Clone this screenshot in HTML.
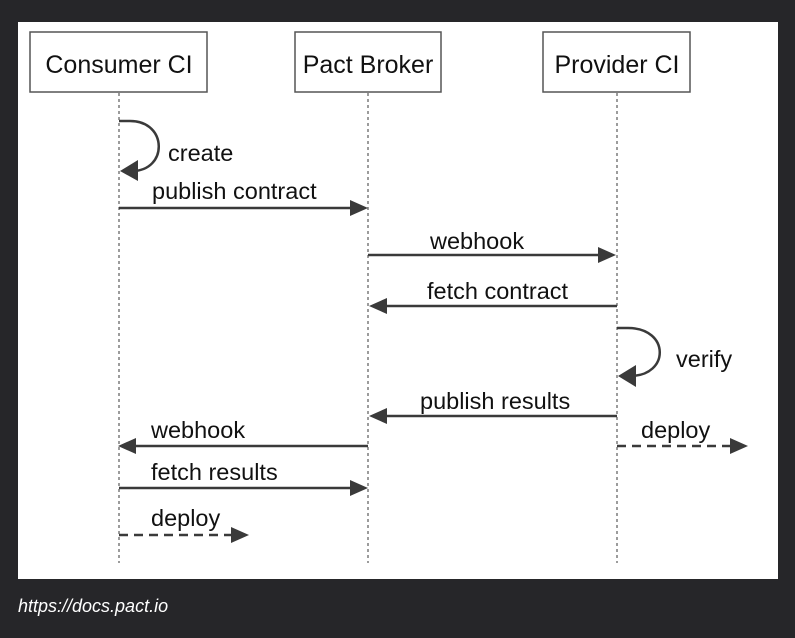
<!DOCTYPE html>
<html><head><style>
html,body{margin:0;padding:0;background:#262629;width:795px;height:638px;overflow:hidden}
</style></head><body>
<svg width="795" height="638" xmlns="http://www.w3.org/2000/svg" font-family="Liberation Sans, Arial, sans-serif">
<rect x="18" y="22" width="760" height="557" fill="#fff"/>
<g fill="#fff" stroke="#555" stroke-width="1.5">
<rect x="30" y="32" width="177" height="60"/>
<rect x="295" y="32" width="146" height="60"/>
<rect x="543" y="32" width="147" height="60"/>
</g>
<g font-size="25" fill="#111" text-anchor="middle">
<text x="119" y="73">Consumer CI</text>
<text x="368" y="73">Pact Broker</text>
<text x="617" y="73">Provider CI</text>
</g>
<g stroke="#666" stroke-width="1.3" stroke-dasharray="3,3">
<line x1="119" y1="93" x2="119" y2="563"/>
<line x1="368" y1="93" x2="368" y2="563"/>
<line x1="617" y1="93" x2="617" y2="563"/>
</g>
<g stroke="#3a3a3a" stroke-width="2.5" fill="none">
<path d="M119,121 L130,121 C168,121 168,171 132,171" />
<path d="M617,328 L628,328 C670,328 670,376 630,376" />
<line x1="119" y1="208" x2="352" y2="208"/>
<line x1="368" y1="255" x2="600" y2="255"/>
<line x1="617" y1="306" x2="385" y2="306"/>
<line x1="617" y1="416" x2="385" y2="416"/>
<line x1="368" y1="446" x2="136" y2="446"/>
<line x1="119" y1="488" x2="352" y2="488"/>
<line x1="119" y1="535" x2="232" y2="535" stroke-dasharray="9,6"/>
<line x1="617" y1="446" x2="730" y2="446" stroke-dasharray="9,6"/>
</g>
<g fill="#3a3a3a">
<path d="M120,171 L138,160 L138,181 z"/>
<path d="M618,376 L636,365 L636,387 z"/>
<path d="M368,208 L350,200 L350,216 z"/>
<path d="M616,255 L598,247 L598,263 z"/>
<path d="M369,306 L387,298 L387,314 z"/>
<path d="M369,416 L387,408 L387,424 z"/>
<path d="M118,446 L136,438 L136,454 z"/>
<path d="M368,488 L350,480 L350,496 z"/>
<path d="M249,535 L231,527 L231,543 z"/>
<path d="M748,446 L730,438 L730,454 z"/>
</g>
<g font-size="23.5" fill="#111">
<text x="168" y="161">create</text>
<text x="152" y="199">publish contract</text>
<text x="430" y="249">webhook</text>
<text x="427" y="299">fetch contract</text>
<text x="676" y="367">verify</text>
<text x="420" y="409">publish results</text>
<text x="151" y="438">webhook</text>
<text x="641" y="438">deploy</text>
<text x="151" y="480">fetch results</text>
<text x="151" y="526">deploy</text>
</g>
<text x="18" y="612" font-size="18" font-style="italic" fill="#fff">https://docs.pact.io</text>
</svg>
</body></html>
